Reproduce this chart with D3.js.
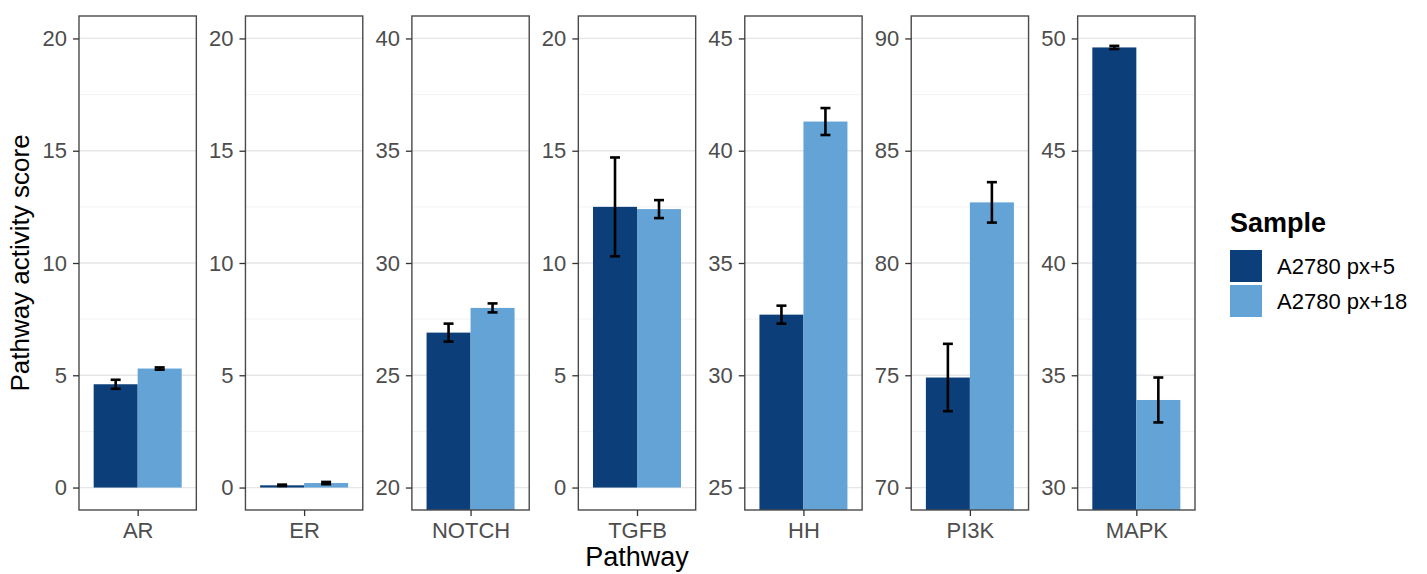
<!DOCTYPE html>
<html><head><meta charset="utf-8">
<script src="https://cdn.jsdelivr.net/npm/d3@7"></script>
<style>html,body{margin:0;padding:0;background:#fff;} text{font-family:"Liberation Sans",Arial,sans-serif;}</style>
</head><body>
<svg id="chart" width="1427" height="574"></svg>
<script>
const pathways = ["AR","ER","NOTCH","TGFB","HH","PI3K","MAPK"];
const samples = ["A2780 px+5","A2780 px+18"];
const px5Values  = [4.6, 0.1, 26.9, 12.5, 32.7, 74.9, 49.6];
const px5Errors  = [0.2, 0.03, 0.4, 2.2, 0.4, 1.5, 0.07];
const px18Values = [5.3, 0.2, 28.0, 12.4, 41.3, 82.7, 33.9];
const px18Errors = [0.05, 0.05, 0.2, 0.4, 0.6, 0.9, 1.0];
const yLower = [0, 0, 20, 0, 25, 70, 30];
const yUpper = [20, 20, 40, 20, 45, 90, 50];
const colors = ["#0c3e79", "#63a3d6"];

const svg = d3.select("#chart");
const panelTop = 16, panelBottom = 510;
const panelScale = d3.scaleBand().domain(pathways).range([79, 1195]).paddingInner(0.295).paddingOuter(0);
const pw = panelScale.bandwidth();
const FONT = '"Liberation Sans",Arial,sans-serif';

const defs = svg.append("defs");

pathways.forEach((p, i) => {
  const x0 = panelScale(p);
  const g = svg.append("g").attr("transform", `translate(${x0},0)`);
  const lo = yLower[i], hi = yUpper[i], ex = (hi - lo) * 0.05;
  const y = d3.scaleLinear().domain([lo - ex, hi + ex]).range([panelBottom, panelTop]);
  const x = d3.scaleLinear().domain([0.4, 1.6]).range([0, pw]);
  const xb = d3.scaleBand().domain(samples).range([x(0.55), x(1.45)]);

  const major = d3.range(lo, hi + 0.001, 5);
  const minor = d3.range(lo + 2.5, hi, 5);
  g.selectAll(".minor").data(minor).join("line")
    .attr("x1", 0).attr("x2", pw).attr("y1", d => y(d)).attr("y2", d => y(d))
    .attr("stroke", "#f2f2f2").attr("stroke-width", 1);
  g.selectAll(".major").data(major).join("line")
    .attr("x1", 0).attr("x2", pw).attr("y1", d => y(d)).attr("y2", d => y(d))
    .attr("stroke", "#e6e6e6").attr("stroke-width", 1.3);

  const cid = "clip" + i;
  defs.append("clipPath").attr("id", cid).append("rect")
    .attr("x", 0).attr("y", panelTop).attr("width", pw).attr("height", panelBottom - panelTop);

  const vals = [px5Values[i], px18Values[i]];
  const errs = [px5Errors[i], px18Errors[i]];
  const bars = g.append("g").attr("clip-path", `url(#${cid})`);
  samples.forEach((s, j) => {
    const base = Math.max(0, lo - ex - 1);
    bars.append("rect")
      .attr("x", xb(s)).attr("width", xb.bandwidth())
      .attr("y", y(vals[j])).attr("height", Math.max(0, y(base) - y(vals[j])))
      .attr("fill", colors[j]);
  });
  samples.forEach((s, j) => {
    const cx = xb(s) + xb.bandwidth() / 2;
    const capW = 10;
    const eg = g.append("g").attr("stroke", "#000").attr("stroke-width", 2.6);
    eg.append("line").attr("x1", cx).attr("x2", cx).attr("y1", y(vals[j] - errs[j])).attr("y2", y(vals[j] + errs[j]));
    eg.append("line").attr("x1", cx - capW/2).attr("x2", cx + capW/2).attr("y1", y(vals[j] - errs[j])).attr("y2", y(vals[j] - errs[j]));
    eg.append("line").attr("x1", cx - capW/2).attr("x2", cx + capW/2).attr("y1", y(vals[j] + errs[j])).attr("y2", y(vals[j] + errs[j]));
  });

  g.append("rect").attr("x", 0).attr("y", panelTop).attr("width", pw).attr("height", panelBottom - panelTop)
    .attr("fill", "none").attr("stroke", "#4a4a4a").attr("stroke-width", 1.4);

  const ya = d3.axisLeft(y).tickValues(major).tickSize(6).tickPadding(6).tickFormat(d3.format("d"));
  const yg = g.append("g").call(ya);
  yg.select(".domain").remove();
  yg.selectAll(".tick line").attr("stroke", "#333").attr("stroke-width", 1.3);
  yg.selectAll(".tick text").attr("fill", "#4d4d4d").style("font-size", "22px").style("font-family", FONT);

  const xa = d3.axisBottom(x).tickValues([1]).tickSize(6).tickPadding(6).tickFormat(() => p);
  const xg = g.append("g").attr("transform", `translate(0,${panelBottom})`).call(xa);
  xg.select(".domain").remove();
  xg.selectAll(".tick line").attr("stroke", "#333").attr("stroke-width", 1.3);
  xg.selectAll(".tick text").attr("fill", "#4d4d4d").style("font-size", "22px").style("font-family", FONT);
});

svg.append("text").attr("x", (79 + 1195) / 2).attr("y", 566).attr("text-anchor", "middle")
  .style("font-size", "27px").attr("fill", "#000").text("Pathway");
svg.append("text").attr("transform", `translate(29,${(panelTop + panelBottom) / 2}) rotate(-90)`)
  .attr("text-anchor", "middle").style("font-size", "26px").attr("fill", "#000").text("Pathway activity score");

const lg = svg.append("g").attr("transform", "translate(1230,0)");
lg.append("text").attr("x", 0).attr("y", 232).style("font-size", "27px").style("font-weight", "bold").text("Sample");
samples.forEach((s, j) => {
  lg.append("rect").attr("x", 0).attr("y", 250 + j * 35).attr("width", 32).attr("height", 32).attr("fill", colors[j]);
  lg.append("text").attr("x", 47).attr("y", 274 + j * 35).style("font-size", "22px").attr("fill", "#000").text(s);
});
</script>
</body></html>
